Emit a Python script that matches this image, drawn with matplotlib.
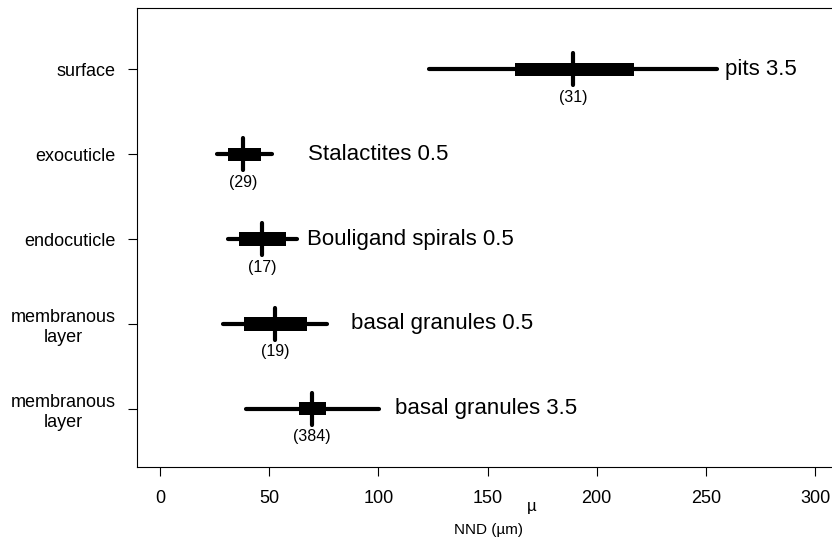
import numpy as np
import matplotlib.pyplot as plt

plt.rcParams['font.family'] = ['Liberation Sans', 'DejaVu Sans']

# --- Data ---
layers = ['surface', 'exocuticle', 'endocuticle', 'membranous\nlayer', 'membranous\nlayer']
features = ['pits 3.5', 'Stalactites 0.5', 'Bouligand spirals 0.5',
            'basal granules 0.5', 'basal granules 3.5']
whisker_lo = [123.2, 26.1, 31.1, 28.9, 39.4]
box_lo = [162.6, 31.1, 36.2, 38.5, 63.7]
median = [189.2, 38.0, 46.7, 52.7, 69.6]
box_hi = [217.1, 46.3, 57.7, 67.3, 76.0]
whisker_hi = [255.2, 51.3, 62.8, 76.5, 100.3]
counts = [31, 29, 17, 19, 384]

# where the feature names start (data units)
label_x = [258.8, 67.8, 67.3, 87.5, 107.6]

ypos = np.arange(len(layers), 0, -1)

fig = plt.figure(figsize=(8.32, 5.41), dpi=100)
# plot box runs a little past the right edge of the image
ax = fig.add_axes([137 / 832, 74 / 541, (841 - 137) / 832, 459 / 541])

for i, y in enumerate(ypos):
    ax.plot([whisker_lo[i], whisker_hi[i]], [y, y], color='black', lw=3,
            solid_capstyle='round', zorder=2)
    ax.barh(y, box_hi[i] - box_lo[i], left=box_lo[i], height=0.155,
            color='black', zorder=3)
    ax.plot([median[i], median[i]], [y - 0.19, y + 0.19], color='black', lw=3,
            solid_capstyle='round', zorder=4)
    ax.text(median[i], y - 0.33, f'({counts[i]})', ha='center', va='center',
            fontsize=11.5)
    ax.text(label_x[i], y, features[i], ha='left', va='center', fontsize=16)

ax.set_xlim(-10.54, 311.9)
ax.set_ylim(0.316, 5.72)
ax.set_xticks([0, 50, 100, 150, 200, 250, 300])
ax.set_yticks(ypos)
ax.set_yticklabels(layers, multialignment='center')
ax.tick_params(axis='both', labelsize=13, length=6.5, width=0.8, direction='out')
ax.tick_params(axis='y', pad=9)
ax.tick_params(axis='x', pad=10)
ax.spines['right'].set_visible(False)
for s in ['left', 'top', 'bottom']:
    ax.spines[s].set_linewidth(0.8)

fig.text(532 / 832, 1 - 507 / 541, 'µ', ha='center', va='center', fontsize=12)
fig.text(489 / 832, 1 - 530 / 541, 'NND (µm)', ha='center', va='center', fontsize=11)

fig.savefig('out.png', dpi=100)
